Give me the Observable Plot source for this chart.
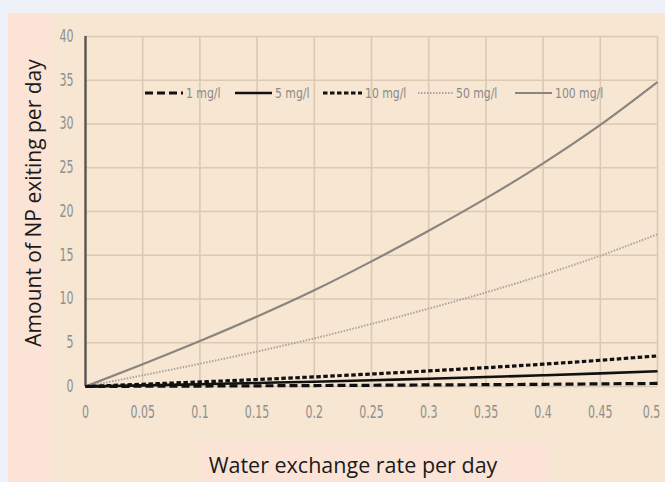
<!DOCTYPE html>
<html>
<head>
<meta charset="utf-8">
<script src="https://cdn.jsdelivr.net/npm/d3@7"></script>
<script src="https://cdn.jsdelivr.net/npm/@observablehq/plot@0.6"></script>
<style>
  html, body { margin: 0; padding: 0; }
  body { width: 665px; height: 482px; background: #eef1f7; position: relative; overflow: hidden; }
  #panel { position: absolute; left: 8px; top: 13px; width: 657px; height: 469px; background: #f6e6d2; }
  #pinkLeft { position: absolute; left: 8px; top: 13px; width: 44px; height: 469px; background: #fbe4d6; }
  #xbox { position: absolute; left: 197px; top: 442px; width: 352px; height: 40px; background: #fbe4d6; }
  #chart { position: absolute; left: 0; top: 0; }
  .title { position: absolute; font-family: "Open Sans", "Noto Sans", sans-serif; color: #1a1a1a; white-space: nowrap; }
  #ytitle { left: 33px; top: 203px; font-size: 21px; transform: translate(-50%, -50%) rotate(-90deg); }
  #xtitle { left: 353px; top: 464px; font-size: 21.5px; transform: translate(-50%, -50%); }
  .leg { position: absolute; top: 84px; height: 18px; display: flex; align-items: center; font-family: "DejaVu Sans Condensed", "Liberation Sans Narrow", sans-serif; font-size: 14px; color: #8a8a8a; white-space: nowrap; }
  .leg svg { display: block; margin-right: 3px; }
  .leg span { display: inline-block; transform: scaleX(0.86); transform-origin: left center; }
</style>
</head>
<body>
<div id="panel"></div>
<div id="pinkLeft"></div>
<div id="xbox"></div>
<div id="chart"></div>
<div id="ytitle" class="title">Amount of NP exiting per day</div>
<div id="xtitle" class="title">Water exchange rate per day</div>
<div id="legend"></div>
<script>
// ---- data ----
const rates = [0, 0.05, 0.1, 0.15, 0.2, 0.25, 0.3, 0.35, 0.4, 0.45, 0.5];
const s1mg   = [0, 0.03, 0.05, 0.08, 0.11, 0.14, 0.18, 0.21, 0.25, 0.3, 0.35];
const s5mg   = [0, 0.13, 0.26, 0.4, 0.55, 0.72, 0.89, 1.08, 1.28, 1.5, 1.74];
const s10mg  = [0, 0.26, 0.52, 0.8, 1.1, 1.43, 1.78, 2.15, 2.55, 3.0, 3.5];
const s50mg  = [0, 1.28, 2.6, 4.0, 5.5, 7.15, 8.9, 10.75, 12.75, 14.95, 17.4];
const s100mg = [0, 2.55, 5.2, 8.0, 11.0, 14.3, 17.8, 21.5, 25.5, 29.9, 34.8];
const seriesNames = ["1 mg/l", "5 mg/l", "10 mg/l", "50 mg/l", "100 mg/l"];
const xTicks = [0, 0.05, 0.1, 0.15, 0.2, 0.25, 0.3, 0.35, 0.4, 0.45, 0.5];
const xTickLabels = ["0", "0.05", "0.1", "0.15", "0.2", "0.25", "0.3", "0.35", "0.4", "0.45", "0.5"];
const yTicks = [0, 5, 10, 15, 20, 25, 30, 35, 40];

const seriesValues = [s1mg, s5mg, s10mg, s50mg, s100mg];
const styles = {
  "1 mg/l":   {stroke: "#111", strokeWidth: 3.2, strokeDasharray: "8,4"},
  "5 mg/l":   {stroke: "#111", strokeWidth: 2.6},
  "10 mg/l":  {stroke: "#111", strokeWidth: 3.2, strokeDasharray: "4.5,2.5"},
  "50 mg/l":  {stroke: "#ada39c", strokeWidth: 2, strokeDasharray: "1.5,1.5"},
  "100 mg/l": {stroke: "#8b8580", strokeWidth: 2.2}
};
const rows = name => rates.map((r, i) => ({rate: r, value: seriesValues[seriesNames.indexOf(name)][i], series: name}));
const drawOrder = ["100 mg/l", "50 mg/l", "10 mg/l", "5 mg/l", "1 mg/l"];

const tickFont = '"DejaVu Sans Condensed", "Liberation Sans Narrow", sans-serif';

const chart = Plot.plot({
  width: 665,
  height: 482,
  marginLeft: 85,
  marginRight: 8,
  marginTop: 36,
  marginBottom: 96,
  style: {background: "transparent", fontFamily: tickFont, fontSize: "17px", color: "#8c8c8c", overflow: "visible"},
  x: {domain: [0, 0.5], label: null},
  y: {domain: [0, 40], label: null},
  marks: [
    Plot.gridX(xTicks, {stroke: "#dbc9b4", strokeOpacity: 1, strokeWidth: 1.6}),
    Plot.gridY(yTicks, {stroke: "#dbc9b4", strokeOpacity: 1, strokeWidth: 1.6}),
    Plot.axisX(xTicks, {tickSize: 0, tickPadding: 19, label: null, tickFormat: (d, i) => xTickLabels[i], fill: "#8f8f8f"}),
    Plot.axisY(yTicks, {tickSize: 0, tickPadding: 12, label: null, fill: "#8f8f8f"}),
    Plot.ruleX([0], {stroke: "#5a5652", strokeWidth: 2.4}),
    ...drawOrder.map(name => Plot.line(rows(name), {x: "rate", y: "value", curve: "monotone-x", strokeLinecap: "butt", strokeLinejoin: "round", ...styles[name]}))
  ]
});
document.getElementById("chart").appendChild(chart);
// condense tick-label glyphs horizontally (reference uses a tall narrow face)
chart.querySelectorAll('g[aria-label="x-axis tick label"] text, g[aria-label="y-axis tick label"] text').forEach(t => {
  const len = t.getComputedTextLength();
  if (len > 0) {
    t.setAttribute("textLength", (len * 0.72).toFixed(2));
    t.setAttribute("lengthAdjust", "spacingAndGlyphs");
  }
});
// keep the last x label inside the window edge
const xLabels = chart.querySelectorAll('g[aria-label="x-axis tick label"] text');
if (xLabels.length) {
  const last = xLabels[xLabels.length - 1];
  last.setAttribute("dx", (parseFloat(last.getAttribute("dx")) || 0) - 6);
}

// ---- legend (inside plot area) ----
const legendLeft = [145, 235, 323, 418, 515];
const swatchW = [38, 37, 39, 35, 37];
const legend = document.getElementById("legend");
seriesNames.forEach((name, i) => {
  const st = styles[name];
  const item = document.createElement("div");
  item.className = "leg";
  item.style.left = legendLeft[i] + "px";
  const ns = "http://www.w3.org/2000/svg";
  const svg = document.createElementNS(ns, "svg");
  svg.setAttribute("width", swatchW[i]);
  svg.setAttribute("height", 8);
  const ln = document.createElementNS(ns, "line");
  ln.setAttribute("x1", 0); ln.setAttribute("x2", swatchW[i]);
  ln.setAttribute("y1", 4); ln.setAttribute("y2", 4);
  ln.setAttribute("stroke", st.stroke);
  ln.setAttribute("stroke-width", st.strokeWidth);
  if (st.strokeDasharray) ln.setAttribute("stroke-dasharray", st.strokeDasharray);
  svg.appendChild(ln);
  item.appendChild(svg);
  const t = document.createElement("span");
  t.textContent = name;
  item.appendChild(t);
  legend.appendChild(item);
});
</script>
</body>
</html>
